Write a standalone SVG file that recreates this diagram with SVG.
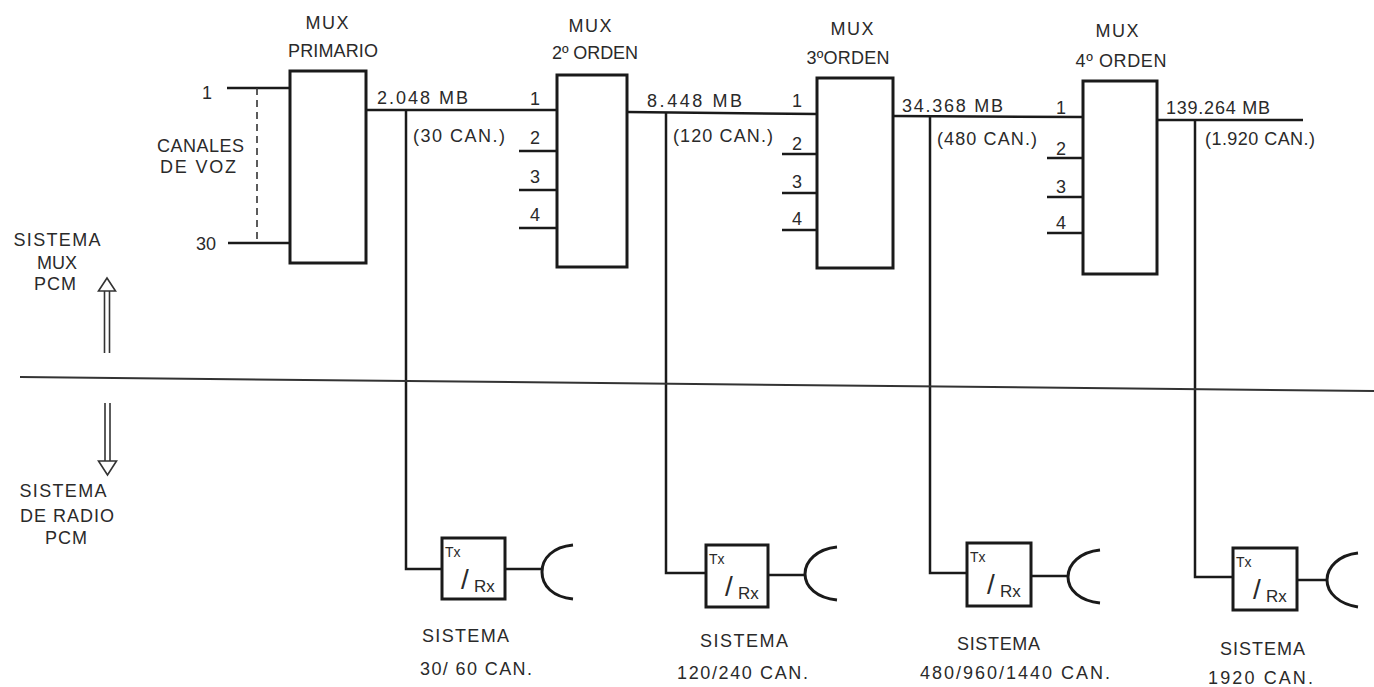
<svg xmlns="http://www.w3.org/2000/svg" width="1374" height="687" viewBox="0 0 1374 687">
<style>
text{font-family:"Liberation Sans","DejaVu Sans",Arial,sans-serif;fill:#2a2a2a;font-size:18px}
.box{fill:#fff;stroke:#1a1a1a;stroke-width:3}
.ln{fill:none;stroke:#1a1a1a;stroke-width:2.5}
.thin{fill:none;stroke:#333;stroke-width:1.6}
.ant{fill:none;stroke:#1a1a1a;stroke-width:3}
.m{text-anchor:middle}
.tx{font-size:14px}
.rx{font-size:17px}
.sl{font-size:28px;font-weight:100}
</style>
<rect width="1374" height="687" fill="#fff"/>

<g id="connectors">
  <line class="ln" x1="227" y1="88" x2="290" y2="88"/>
  <line class="ln" x1="228" y1="243" x2="290" y2="243"/>
  <line class="thin" x1="257" y1="88" x2="257" y2="243" stroke-dasharray="7,5"/>
  <line class="ln" x1="366" y1="110" x2="557" y2="110"/>
  <line class="ln" x1="627" y1="112" x2="817" y2="114"/>
  <line class="ln" x1="893" y1="116" x2="1083" y2="117"/>
  <line class="ln" x1="1157" y1="120" x2="1303" y2="120"/>
  <line class="ln" x1="519" y1="151" x2="557" y2="151"/>
  <line class="ln" x1="519" y1="190" x2="557" y2="190"/>
  <line class="ln" x1="519" y1="228" x2="557" y2="228"/>
  <line class="ln" x1="782" y1="154" x2="817" y2="154"/>
  <line class="ln" x1="782" y1="193" x2="817" y2="193"/>
  <line class="ln" x1="782" y1="230" x2="817" y2="230"/>
  <line class="ln" x1="1047" y1="158" x2="1083" y2="158"/>
  <line class="ln" x1="1047" y1="197" x2="1083" y2="197"/>
  <line class="ln" x1="1047" y1="233" x2="1083" y2="233"/>
  <polyline class="ln" points="406,110 406,569 442,569"/>
  <polyline class="ln" points="666,112 666,573 706,573"/>
  <polyline class="ln" points="930,116 930,573 967,573"/>
  <polyline class="ln" points="1195,120 1195,577 1233,577"/>
  <line class="ln" x1="505" y1="569" x2="542" y2="569"/>
  <line class="ln" x1="768" y1="575" x2="805" y2="575"/>
  <line class="ln" x1="1031" y1="576" x2="1068" y2="576"/>
  <line class="ln" x1="1297" y1="580" x2="1327" y2="580"/>
  <line x1="20" y1="377" x2="1374" y2="391" stroke="#333" stroke-width="2"/>
</g>

<g id="mux-primario">
  <rect class="box" x="290" y="71" width="76" height="192"/>
  <text class="m" x="327" y="29" textLength="43">MUX</text>
  <text class="m" x="333" y="57" textLength="90">PRIMARIO</text>
</g>
<g id="mux-2">
  <rect class="box" x="557" y="75" width="70" height="192"/>
  <text class="m" x="590" y="32" textLength="43">MUX</text>
  <text class="m" x="595" y="59" textLength="86">2º ORDEN</text>
  <text class="m" x="535" y="105">1</text>
  <text class="m" x="535" y="144">2</text>
  <text class="m" x="535" y="183">3</text>
  <text class="m" x="535" y="221">4</text>
</g>
<g id="mux-3">
  <rect class="box" x="817" y="78" width="76" height="190"/>
  <text class="m" x="852" y="35" textLength="43">MUX</text>
  <text class="m" x="848" y="64" textLength="83">3ºORDEN</text>
  <text class="m" x="797" y="107">1</text>
  <text class="m" x="797" y="150">2</text>
  <text class="m" x="797" y="188">3</text>
  <text class="m" x="797" y="225">4</text>
</g>
<g id="mux-4">
  <rect class="box" x="1083" y="81" width="74" height="193"/>
  <text class="m" x="1117" y="37" textLength="43">MUX</text>
  <text class="m" x="1121" y="67" textLength="91">4º ORDEN</text>
  <text class="m" x="1061" y="114">1</text>
  <text class="m" x="1061" y="155">2</text>
  <text class="m" x="1061" y="193">3</text>
  <text class="m" x="1061" y="229">4</text>
</g>

<g id="labels-inputs">
  <text class="m" x="207" y="99">1</text>
  <text class="m" x="206" y="250">30</text>
  <text x="157" y="152" textLength="87">CANALES</text>
  <text x="160" y="173" textLength="76">DE VOZ</text>
</g>

<g id="labels-rates">
  <text x="377" y="104" textLength="91">2.048 MB</text>
  <text x="413" y="142" textLength="92">(30 CAN.)</text>
  <text x="647" y="107" textLength="95">8.448 MB</text>
  <text x="673" y="142" textLength="100">(120 CAN.)</text>
  <text x="902" y="112" textLength="101">34.368 MB</text>
  <text x="937" y="145" textLength="100">(480 CAN.)</text>
  <text x="1166" y="114" textLength="104">139.264 MB</text>
  <text x="1205" y="145" textLength="110">(1.920 CAN.)</text>
</g>

<g id="sistema-mux-pcm">
  <text class="m" x="57" y="246" textLength="87">SISTEMA</text>
  <text class="m" x="57" y="269" textLength="40">MUX</text>
  <text class="m" x="55" y="290" textLength="42">PCM</text>
  <line class="thin" x1="104.5" y1="291" x2="104.5" y2="353"/>
  <line class="thin" x1="109.5" y1="291" x2="109.5" y2="353"/>
  <polygon class="thin" fill="#fff" points="107,278 98.5,291 115.5,291"/>
</g>
<g id="sistema-radio-pcm">
  <text class="m" x="63" y="497" textLength="87">SISTEMA</text>
  <text class="m" x="67" y="522" textLength="94">DE RADIO</text>
  <text class="m" x="66" y="544" textLength="42">PCM</text>
  <line class="thin" x1="105" y1="403" x2="105" y2="461"/>
  <line class="thin" x1="110" y1="403" x2="110" y2="461"/>
  <polygon class="thin" fill="#fff" points="98.5,461 116.5,461 107.5,475"/>
</g>

<g id="radio-1">
  <rect class="box" x="442" y="538" width="63" height="61"/>
  <text class="tx" x="445" y="557">Tx</text>
  <text class="sl" x="461" y="589">/</text>
  <text class="rx" x="474" y="592">Rx</text>
  <path class="ant" d="M573,545 C553,547 542,558 542,572 C542,586 553,597 573,599"/>
  <text x="422" y="642" textLength="87">SISTEMA</text>
  <text x="420" y="675" textLength="112">30/ 60 CAN.</text>
</g>
<g id="radio-2">
  <rect class="box" x="706" y="545" width="62" height="62"/>
  <text class="tx" x="709" y="564">Tx</text>
  <text class="sl" x="725" y="596">/</text>
  <text class="rx" x="738" y="599">Rx</text>
  <path class="ant" d="M837,547 C817,549 805,561 805,574 C805,587 817,598 837,600"/>
  <text x="700" y="647" textLength="88">SISTEMA</text>
  <text x="677" y="679" textLength="131">120/240 CAN.</text>
</g>
<g id="radio-3">
  <rect class="box" x="967" y="543" width="64" height="63"/>
  <text class="tx" x="970" y="562">Tx</text>
  <text class="sl" x="987" y="594">/</text>
  <text class="rx" x="1000" y="597">Rx</text>
  <path class="ant" d="M1100,550 C1080,552 1068,564 1068,577 C1068,590 1080,601 1100,603"/>
  <text x="957" y="650" textLength="83">SISTEMA</text>
  <text x="920" y="679" textLength="190">480/960/1440 CAN.</text>
</g>
<g id="radio-4">
  <rect class="box" x="1233" y="548" width="64" height="62"/>
  <text class="tx" x="1236" y="567">Tx</text>
  <text class="sl" x="1253" y="599">/</text>
  <text class="rx" x="1266" y="602">Rx</text>
  <path class="ant" d="M1358,553 C1339,555 1327,567 1327,580 C1327,593 1339,604 1358,607"/>
  <text x="1220" y="655" textLength="85">SISTEMA</text>
  <text x="1208" y="684" textLength="105">1920 CAN.</text>
</g>
</svg>
